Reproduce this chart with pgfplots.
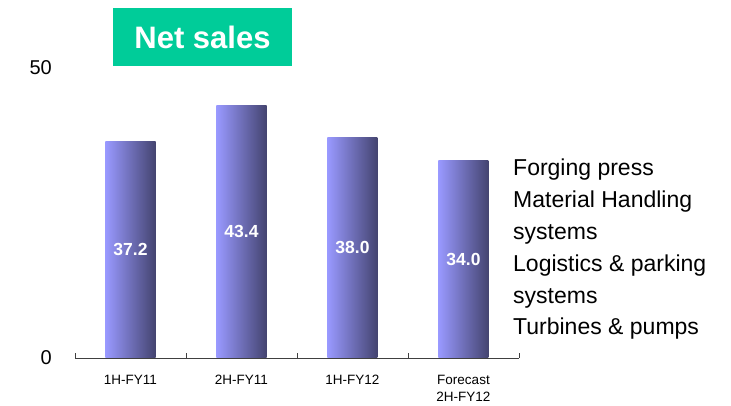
\documentclass[border=0pt]{standalone}
\usepackage{pgfplots}
\pgfplotsset{compat=1.18}
\usepackage{fontspec}
\setmainfont{Liberation Sans}
\definecolor{titlegreen}{RGB}{0,204,153}
\definecolor{barlight}{RGB}{153,153,255}
\definecolor{bardark}{RGB}{68,68,112}
\begin{document}
\begin{tikzpicture}
\useasboundingbox (0,0) rectangle (731pt,406pt);
\begin{axis}[
  at={(75pt,48pt)}, anchor=south west,
  scale only axis, width=444pt, height=290.5pt,
  xmin=-0.5, xmax=3.5, ymin=0, ymax=50,
  clip=false,
  no markers,
  cycle list={{draw=none}},
  axis x line*=bottom, axis y line*=left,
  y axis line style={draw=none},
  x axis line style={draw=black!75, line width=0.8pt},
  ytick={0,50}, yticklabels={0,50},
  ytick style={draw=none},
  /pgf/number format/assume math mode=true,
  yticklabel style={anchor=east, inner sep=0pt, xshift=-23pt, font=\fontsize{20}{24}\selectfont},
  xtick={0,1,2,3},
  xticklabels={1H-FY11,2H-FY11,1H-FY12,{Forecast\\2H-FY12}},
  xticklabel style={anchor=north, inner sep=0pt, yshift=-17pt, align=center,
    font=\fontsize{13.5}{17}\selectfont},
  major tick length=0pt,
  minor xtick={-0.5,0.5,1.5,2.5,3.5},
  minor tick length=5pt,
  tick align=inside,
  minor x tick style={draw=black!75, line width=0.8pt},
  every axis plot/.append style={
    ybar, bar width=50pt, bar shift=0pt, draw=none,
    left color=barlight, right color=bardark,
    visualization depends on={y/2 \as \half},
    nodes near coords={\pgfmathprintnumber[fixed, fixed zerofill, precision=1]{\pgfplotspointmeta}},
    every node near coord/.append style={anchor=center, shift={(axis direction cs:0,-\half)},
      text=white, font=\fontsize{17.5}{20}\selectfont\bfseries},
  },
]
\addplot coordinates {(0,37.2)};
\addplot coordinates {(1,43.4)};
\addplot coordinates {(2,38.0)};
\addplot coordinates {(3,34.0)};
\end{axis}
\node[fill=titlegreen, minimum width=179pt, minimum height=58pt, inner sep=0pt,
  text=white, font=\fontsize{31}{36}\selectfont\bfseries] at (202.5pt,369pt) {Net sales};
\node[anchor=base west, inner sep=0pt, align=left, font=\fontsize{23}{31.8}\selectfont]
  at (513pt,71pt) {Forging press\\Material Handling\\systems\\Logistics \& parking\\systems\\Turbines \& pumps};
\end{tikzpicture}
\end{document}
